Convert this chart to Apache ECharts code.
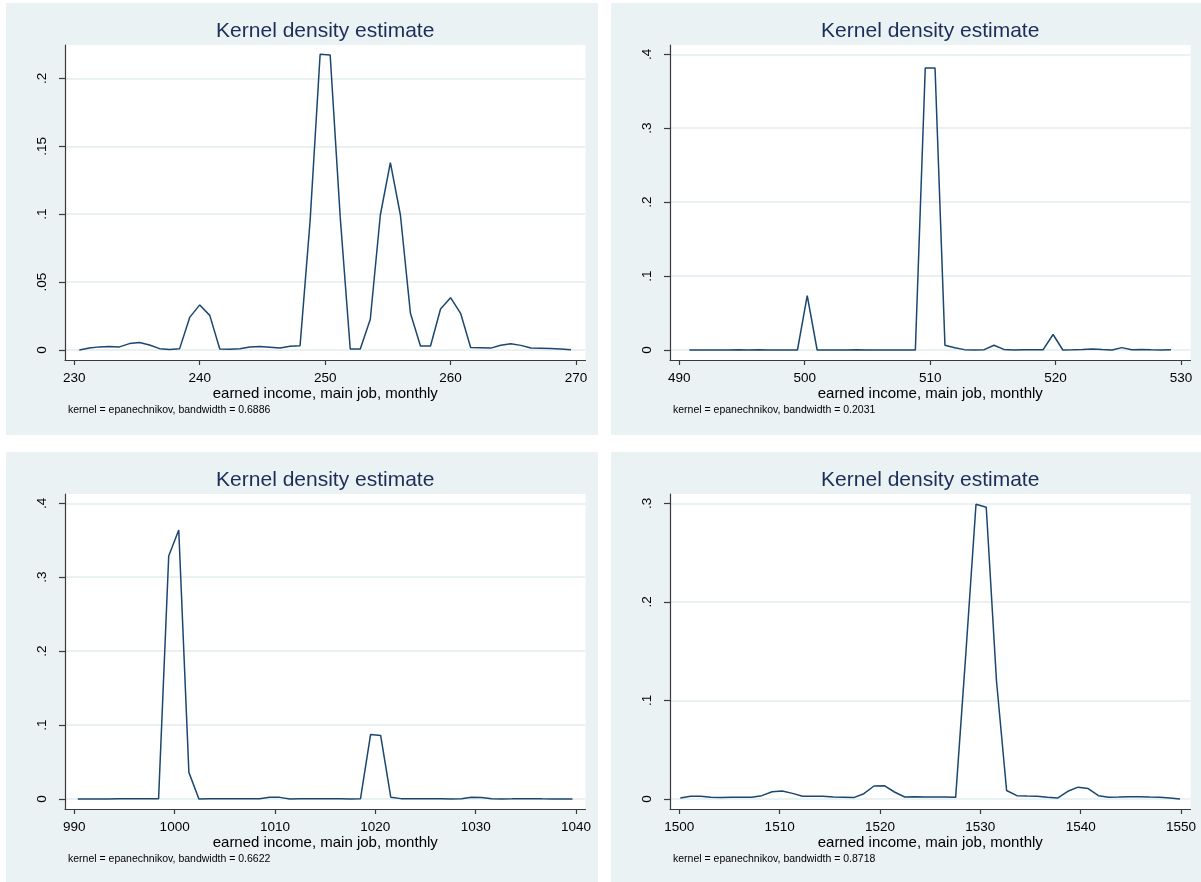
<!DOCTYPE html>
<html>
<head>
<meta charset="utf-8">
<title>Kernel density estimates</title>
<script src="https://cdn.jsdelivr.net/npm/echarts@6/dist/echarts.min.js"></script>
<style>
  html, body { margin: 0; padding: 0; background: #ffffff; }
  #chart { width: 1201px; height: 882px; }
</style>
</head>
<body>
<div id="chart"></div>
<script>
// Evaluation grids (earned income) and density estimates, one pair per panel.
const incomeGrid250 = [
  230.4, 231.2, 232.0, 232.8, 233.6, 234.4, 235.2, 236.0, 236.8, 237.6,
  238.4, 239.2, 240.0, 240.8, 241.6, 242.4, 243.2, 244.0, 244.8, 245.6,
  246.4, 247.2, 248.0, 248.8, 249.6, 250.4, 251.2, 252.0, 252.8, 253.6,
  254.4, 255.2, 256.0, 256.8, 257.6, 258.4, 259.2, 260.0, 260.8, 261.6,
  262.4, 263.2, 264.0, 264.8, 265.6, 266.4, 267.2, 268.0, 268.8, 269.6
];
const density250 = [
  0.0000, 0.0015, 0.0023, 0.0025, 0.0023, 0.0047, 0.0055, 0.0037, 0.0010, 0.0004,
  0.0010, 0.0240, 0.0332, 0.0255, 0.0007, 0.0005, 0.0010, 0.0022, 0.0026, 0.0020,
  0.0014, 0.0027, 0.0032, 0.0950, 0.2177, 0.2172, 0.0980, 0.0007, 0.0007, 0.0226,
  0.0994, 0.1379, 0.0994, 0.0270, 0.0029, 0.0029, 0.0302, 0.0385, 0.0270, 0.0018,
  0.0016, 0.0014, 0.0035, 0.0046, 0.0034, 0.0014, 0.0013, 0.0011, 0.0008, 0.0001
];

const incomeGrid510 = [
  490.80, 491.58, 492.37, 493.15, 493.93, 494.72, 495.50, 496.29, 497.07, 497.85,
  498.64, 499.42, 500.20, 500.99, 501.77, 502.55, 503.34, 504.12, 504.91, 505.69,
  506.47, 507.26, 508.04, 508.82, 509.61, 510.39, 511.18, 511.96, 512.74, 513.53,
  514.31, 515.09, 515.88, 516.66, 517.45, 518.23, 519.01, 519.80, 520.58, 521.36,
  522.15, 522.93, 523.71, 524.50, 525.28, 526.07, 526.85, 527.63, 528.42, 529.20
];
const density510 = [
  0.0000, 0.0000, 0.0000, 0.0000, 0.0001, 0.0003, 0.0001, 0.0003, 0.0001, 0.0000,
  0.0000, 0.0000, 0.0735, 0.0000, 0.0000, 0.0000, 0.0001, 0.0003, 0.0001, 0.0000,
  0.0000, 0.0000, 0.0000, 0.0000, 0.3815, 0.3815, 0.0065, 0.0030, 0.0005, 0.0000,
  0.0005, 0.0065, 0.0008, 0.0000, 0.0002, 0.0003, 0.0005, 0.0210, 0.0000, 0.0002,
  0.0008, 0.0014, 0.0006, 0.0001, 0.0032, 0.0004, 0.0008, 0.0004, 0.0001, 0.0002
];

const incomeGrid1000 = [
  990.35, 991.36, 992.36, 993.37, 994.37, 995.38, 996.39, 997.39, 998.40, 999.41,
  1000.41, 1001.42, 1002.42, 1003.43, 1004.44, 1005.44, 1006.45, 1007.45, 1008.46, 1009.47,
  1010.47, 1011.48, 1012.48, 1013.49, 1014.50, 1015.50, 1016.51, 1017.52, 1018.52, 1019.53,
  1020.53, 1021.54, 1022.55, 1023.55, 1024.56, 1025.56, 1026.57, 1027.58, 1028.58, 1029.59,
  1030.59, 1031.60, 1032.61, 1033.61, 1034.62, 1035.63, 1036.63, 1037.64, 1038.64, 1039.65
];
const density1000 = [
  0.0000, 0.0000, 0.0000, 0.0000, 0.0002, 0.0003, 0.0003, 0.0003, 0.0003, 0.3288,
  0.3640, 0.0360, 0.0000, 0.0002, 0.0003, 0.0003, 0.0003, 0.0003, 0.0003, 0.0025,
  0.0022, 0.0001, 0.0002, 0.0003, 0.0003, 0.0003, 0.0002, 0.0001, 0.0003, 0.0873,
  0.0860, 0.0025, 0.0005, 0.0004, 0.0004, 0.0004, 0.0003, 0.0001, 0.0003, 0.0025,
  0.0020, 0.0002, 0.0001, 0.0002, 0.0005, 0.0005, 0.0002, 0.0001, 0.0001, 0.0001
];

const incomeGrid1530 = [
  1500.10, 1501.12, 1502.13, 1503.15, 1504.17, 1505.18, 1506.20, 1507.21, 1508.23, 1509.25,
  1510.26, 1511.28, 1512.30, 1513.31, 1514.33, 1515.34, 1516.36, 1517.38, 1518.39, 1519.41,
  1520.43, 1521.44, 1522.46, 1523.48, 1524.49, 1525.51, 1526.52, 1527.54, 1528.56, 1529.57,
  1530.59, 1531.61, 1532.62, 1533.64, 1534.66, 1535.67, 1536.69, 1537.70, 1538.72, 1539.74,
  1540.75, 1541.77, 1542.79, 1543.80, 1544.82, 1545.83, 1546.85, 1547.87, 1548.88, 1549.90
];
const density1530 = [
  0.0010, 0.0027, 0.0027, 0.0017, 0.0014, 0.0017, 0.0017, 0.0017, 0.0034, 0.0074,
  0.0081, 0.0057, 0.0027, 0.0027, 0.0027, 0.0020, 0.0017, 0.0014, 0.0054, 0.0132,
  0.0135, 0.0071, 0.0020, 0.0024, 0.0020, 0.0020, 0.0020, 0.0017, 0.1480, 0.2990,
  0.2960, 0.1200, 0.0086, 0.0034, 0.0030, 0.0027, 0.0017, 0.0010, 0.0078, 0.0120,
  0.0106, 0.0034, 0.0017, 0.0020, 0.0024, 0.0024, 0.0020, 0.0017, 0.0010, 0.0000
];

// Axis tick values
const xTicks250 = [230, 240, 250, 260, 270];
const yTicks250 = [0, 0.05, 0.1, 0.15, 0.2];
const xTicks510 = [490, 500, 510, 520, 530];
const yTicks510 = [0, 0.1, 0.2, 0.3, 0.4];
const xTicks1000 = [990, 1000, 1010, 1020, 1030, 1040];
const yTicks1000 = [0, 0.1, 0.2, 0.3, 0.4];
const xTicks1530 = [1500, 1510, 1520, 1530, 1540, 1550];
const yTicks1530 = [0, 0.1, 0.2, 0.3];

// Text
const panelTitle = 'Kernel density estimate';
const xAxisTitle = 'earned income, main job, monthly';
const bandwidths = ['0.6886', '0.2031', '0.6622', '0.8718'];

// Styling / layout
const FONT = '"Liberation Sans", Arial, Helvetica, sans-serif';
const REGION_BG = '#eaf2f3';
const GRID_LINE = '#e3ecee';
const AXIS_COLOR = '#3a3a3a';
const LINE_COLOR = '#1a476f';
const TITLE_COLOR = '#1c2d5a';

const PANEL_DX = 605, PANEL_DY = 449;
const REGION = { x: 6, y: 3, w: 592, h: 432 };
const PLOT = { left: 65, top: 45, width: 520.5, height: 315 };
const PAD = { left: 9.3, right: 9.5, top: 9.3, bottom: 10 };

const panels = [
  { grid: incomeGrid250, dens: density250, xt: xTicks250, yt: yTicks250, bw: bandwidths[0] },
  { grid: incomeGrid510, dens: density510, xt: xTicks510, yt: yTicks510, bw: bandwidths[1] },
  { grid: incomeGrid1000, dens: density1000, xt: xTicks1000, yt: yTicks1000, bw: bandwidths[2] },
  { grid: incomeGrid1530, dens: density1530, xt: xTicks1530, yt: yTicks1530, bw: bandwidths[3] }
];

// Stata-style labels: plain integers on x, no leading zero on y
const fmtX = v => String(v);
const fmtY = v => (v === 0 ? '0' : String(v).replace(/^0/, ''));

const grids = [], xAxes = [], yAxes = [], series = [], graphics = [];

panels.forEach((p, i) => {
  const ox = (i % 2) * PANEL_DX;
  const oy = Math.floor(i / 2) * PANEL_DY;

  const xLo = p.xt[0], xHi = p.xt[p.xt.length - 1];
  const yHi = Math.max(p.yt[p.yt.length - 1], Math.max(...p.dens));
  const xu = (xHi - xLo) / (PLOT.width - PAD.left - PAD.right);
  const yu = yHi / (PLOT.height - PAD.top - PAD.bottom);

  graphics.push({
    type: 'rect', z: -100, silent: true,
    shape: { x: REGION.x + ox, y: REGION.y + oy, width: REGION.w, height: REGION.h },
    style: { fill: REGION_BG }
  });
  graphics.push({
    type: 'text', z: 100, silent: true,
    x: PLOT.left + PLOT.width / 2 + ox, y: 31 + oy,
    style: { text: panelTitle, font: '21px ' + FONT, fill: TITLE_COLOR, align: 'center', verticalAlign: 'middle' }
  });
  graphics.push({
    type: 'text', z: 100, silent: true,
    x: 68 + ox, y: 410 + oy,
    style: { text: 'kernel = epanechnikov, bandwidth = ' + p.bw, font: '10.5px ' + FONT, fill: '#000', align: 'left', verticalAlign: 'middle' }
  });

  grids.push({
    left: PLOT.left + ox, top: PLOT.top + oy, width: PLOT.width, height: PLOT.height,
    show: true, backgroundColor: '#ffffff', borderWidth: 0, containLabel: false
  });

  xAxes.push({
    type: 'value', gridIndex: i,
    min: xLo - PAD.left * xu, max: xHi + PAD.right * xu,
    name: xAxisTitle, nameLocation: 'middle', nameGap: 25,
    nameTextStyle: { fontFamily: FONT, fontSize: 15, color: '#000' },
    axisLine: { show: true, onZero: false, lineStyle: { color: AXIS_COLOR, width: 1.2 } },
    axisTick: { show: true, inside: false, length: 5, customValues: p.xt, lineStyle: { color: AXIS_COLOR, width: 1.2 } },
    axisLabel: { show: true, customValues: p.xt, margin: 11, fontFamily: FONT, fontSize: 13.5, color: '#000', formatter: fmtX },
    splitLine: { show: false }
  });

  yAxes.push({
    type: 'value', gridIndex: i,
    min: -PAD.bottom * yu, max: yHi + PAD.top * yu,
    axisLine: { show: true, onZero: false, lineStyle: { color: AXIS_COLOR, width: 1.2 } },
    axisTick: { show: true, inside: false, length: 6, customValues: p.yt, lineStyle: { color: AXIS_COLOR, width: 1.2 } },
    axisLabel: { show: true, customValues: p.yt, rotate: 90, margin: 16, fontFamily: FONT, fontSize: 13.5, color: '#000', formatter: fmtY },
    splitLine: { show: true, lineStyle: { color: GRID_LINE, width: 1.5 } }
  });

  series.push({
    type: 'line', xAxisIndex: i, yAxisIndex: i,
    data: p.grid.map((x, k) => [x, p.dens[k]]),
    showSymbol: false, symbol: 'none', smooth: false,
    lineStyle: { color: LINE_COLOR, width: 1.5 },
    silent: true, animation: false
  });
});

const chart = echarts.init(document.getElementById('chart'), null, { renderer: 'canvas' });
chart.setOption({
  backgroundColor: '#ffffff',
  animation: false,
  grid: grids,
  xAxis: xAxes,
  yAxis: yAxes,
  series: series,
  graphic: { elements: graphics }
});
</script>
</body>
</html>
